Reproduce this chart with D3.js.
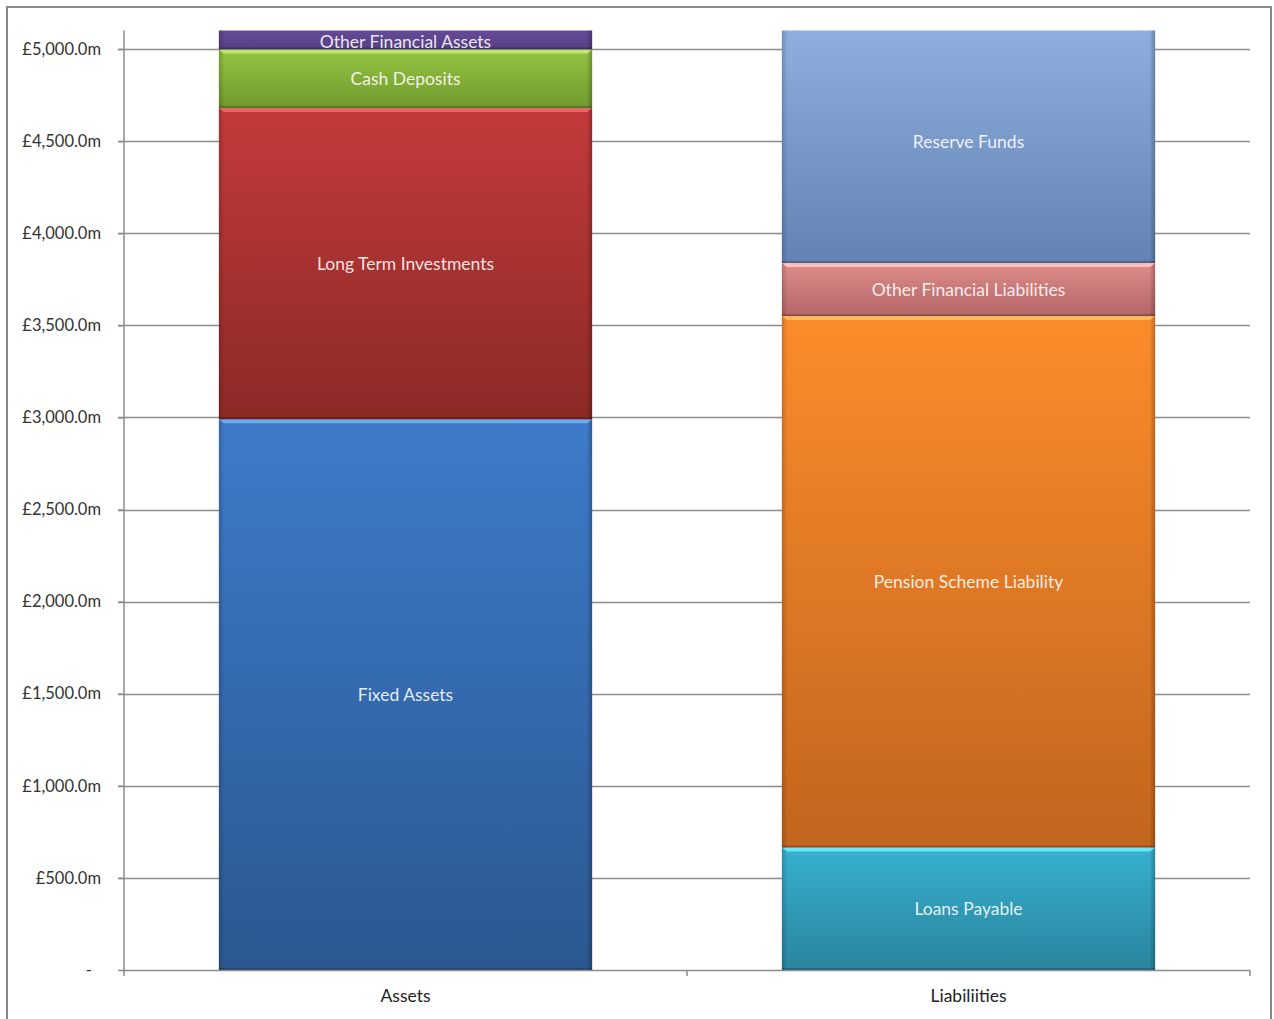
<!DOCTYPE html>
<html>
<head>
<meta charset="utf-8">
<script src="https://cdn.jsdelivr.net/npm/d3@7"></script>
<style>
  html, body { margin: 0; padding: 0; background: #fff; }
  svg { display: block; }
</style>
</head>
<body>
<svg id="chart" width="1274" height="1019"></svg>
<script>
// Balance sheet: stacked assets vs liabilities (£m)
const categories = ["Assets", "Liabiliities"];
const assetSeries = ["Fixed Assets", "Long Term Investments", "Cash Deposits", "Other Financial Assets"];
const assetValues = [2990, 1690, 318, 150];
const liabilitySeries = ["Loans Payable", "Pension Scheme Liability", "Other Financial Liabilities", "Reserve Funds"];
const liabilityValues = [665, 2885, 288, 1320];
const yTicks = [0, 500, 1000, 1500, 2000, 2500, 3000, 3500, 4000, 4500, 5000];

// gradient colours per segment: [top, bottom, highlight]
const palette = {
  "Fixed Assets": ["#3d7cc9", "#2b5791", "#6fb0f5"],
  "Long Term Investments": ["#c23b3a", "#8c2927", "#ef6a68"],
  "Cash Deposits": ["#94c341", "#719a2e", "#c2ec78"],
  "Other Financial Assets": ["#6c4f9e", "#573f85", "#9b7fcc"],
  "Loans Payable": ["#37b0cf", "#2a849e", "#6af0ff"],
  "Pension Scheme Liability": ["#fb8c2b", "#c2651e", "#ffc060"],
  "Other Financial Liabilities": ["#de8c8c", "#b46565", "#ffc8c8"],
  "Reserve Funds": ["#8fb0e0", "#6483b3", "#b8d4ff"]
};

const FONT = "Lato, 'Open Sans', sans-serif";
const svg = d3.select("#chart");
const margin = { left: 124, right: 1250, top: 30.6, bottom: 970 };

const x = d3.scaleBand().domain(categories).range([margin.left, margin.right]).paddingInner(0.337).paddingOuter(0.1685);
const y = d3.scaleLinear().domain([0, 5100]).range([margin.bottom, margin.top]);

// outer frame
svg.append("rect").attr("x", 7).attr("y", 7).attr("width", 1264).attr("height", 1030)
  .attr("fill", "none").attr("stroke", "#8a8a8a").attr("stroke-width", 2);

// gridlines
svg.append("g").selectAll("line").data(yTicks.filter(d => d > 0)).join("line")
  .attr("x1", margin.left - 6).attr("x2", margin.right)
  .attr("y1", d => Math.round(y(d)) + 0.5).attr("y2", d => Math.round(y(d)) + 0.5)
  .attr("stroke", "#8c8c8c").attr("stroke-width", 1.5);

// y axis
const yAxis = d3.axisLeft(y).tickValues(yTicks).tickSize(6).tickPadding(17)
  .tickFormat(d => d === 0 ? "-" : "£" + d3.format(",.1f")(d) + "m");
const gy = svg.append("g").attr("transform", `translate(${margin.left},0)`).call(yAxis);
gy.select(".domain").attr("d", `M0,${margin.top}V${margin.bottom}`).attr("stroke", "#8c8c8c").attr("stroke-width", 1.5);
gy.selectAll(".tick line").attr("stroke", "#8c8c8c").attr("stroke-width", 1.5);
gy.selectAll(".tick text").attr("font-family", FONT).attr("font-size", 16.5).attr("fill", "#333")
  .attr("dx", d => d === 0 ? -9 : 0);

// defs for gradients
const defs = svg.append("defs");
Object.entries(palette).forEach(([name, c], i) => {
  const g = defs.append("linearGradient").attr("id", "grad" + i).attr("x1", 0).attr("x2", 0).attr("y1", 0).attr("y2", 1);
  g.append("stop").attr("offset", "0%").attr("stop-color", c[0]);
  g.append("stop").attr("offset", "100%").attr("stop-color", c[1]);
  const h = defs.append("linearGradient").attr("id", "side" + i).attr("x1", 0).attr("x2", 1).attr("y1", 0).attr("y2", 0);
  h.append("stop").attr("offset", "0%").attr("stop-color", "#000").attr("stop-opacity", 0.18);
  h.append("stop").attr("offset", "1.5%").attr("stop-color", "#000").attr("stop-opacity", 0);
  h.append("stop").attr("offset", "98.5%").attr("stop-color", "#000").attr("stop-opacity", 0);
  h.append("stop").attr("offset", "100%").attr("stop-color", "#000").attr("stop-opacity", 0.25);
});
const nameIndex = Object.fromEntries(Object.keys(palette).map((k, i) => [k, i]));

defs.append("clipPath").attr("id", "plotClip").append("rect")
  .attr("x", margin.left).attr("y", margin.top).attr("width", margin.right - margin.left).attr("height", margin.bottom - margin.top);

// build stacked segments
function stackSegments(cat, names, values) {
  let acc = 0;
  return names.map((n, i) => {
    const seg = { cat, name: n, y0: acc, y1: acc + values[i] };
    acc += values[i];
    return seg;
  });
}
const segments = [
  ...stackSegments(categories[0], assetSeries, assetValues),
  ...stackSegments(categories[1], liabilitySeries, liabilityValues)
];

const bars = svg.append("g").attr("clip-path", "url(#plotClip)");
const segG = bars.selectAll("g.seg").data(segments).join("g").attr("class", "seg");

segG.append("rect")
  .attr("x", d => x(d.cat)).attr("width", x.bandwidth())
  .attr("y", d => y(d.y1)).attr("height", d => y(d.y0) - y(d.y1))
  .attr("fill", d => `url(#grad${nameIndex[d.name]})`);
// side shading
segG.append("rect")
  .attr("x", d => x(d.cat)).attr("width", x.bandwidth())
  .attr("y", d => y(d.y1)).attr("height", d => y(d.y0) - y(d.y1))
  .attr("fill", d => `url(#side${nameIndex[d.name]})`);
// bevel highlight along top edge
segG.append("path")
  .attr("d", d => {
    const x0 = x(d.cat), x1 = x0 + x.bandwidth(), t = y(d.y1);
    return `M${x0},${t}H${x1}L${x1 - 5},${t + 4}H${x0 + 5}Z`;
  })
  .attr("fill", d => palette[d.name][2]).attr("opacity", 0.9);
// dark line along bottom edge
segG.append("rect")
  .attr("x", d => x(d.cat)).attr("width", x.bandwidth())
  .attr("y", d => y(d.y0) - 2).attr("height", 2)
  .attr("fill", "#000").attr("opacity", 0.22);

// segment labels, centred on the visible part
svg.append("g").selectAll("text").data(segments).join("text")
  .attr("x", d => x(d.cat) + x.bandwidth() / 2)
  .attr("y", d => {
    const top = Math.max(y(d.y1), margin.top);
    const mid = (top + y(d.y0)) / 2;
    // labels of clipped segments sit a little differently
    return y(d.y1) < margin.top ? mid + (y(d.y0) - top < 40 ? 2 : -5) : mid;
  })
  .attr("dy", "0.35em")
  .attr("text-anchor", "middle")
  .attr("font-family", FONT)
  .attr("font-size", 17.5)
  .attr("fill", "#fff").attr("fill-opacity", 0.88)
  .text(d => d.name);

// x axis
const gx = svg.append("g").attr("transform", `translate(0,${margin.bottom})`);
gx.append("line").attr("x1", margin.left).attr("x2", margin.right).attr("y1", 0.5).attr("y2", 0.5)
  .attr("stroke", "#8c8c8c").attr("stroke-width", 1.5);
const boundaries = [margin.left, (margin.left + margin.right) / 2, margin.right];
gx.selectAll("line.tk").data(boundaries).join("line").attr("class", "tk")
  .attr("x1", d => d).attr("x2", d => d).attr("y1", 0).attr("y2", 6)
  .attr("stroke", "#8c8c8c").attr("stroke-width", 1.5);
gx.selectAll("text").data(categories).join("text")
  .attr("x", d => x(d) + x.bandwidth() / 2).attr("y", 32)
  .attr("text-anchor", "middle")
  .attr("font-family", FONT).attr("font-size", 17.5).attr("fill", "#222")
  .text(d => d);
</script>
</body>
</html>
